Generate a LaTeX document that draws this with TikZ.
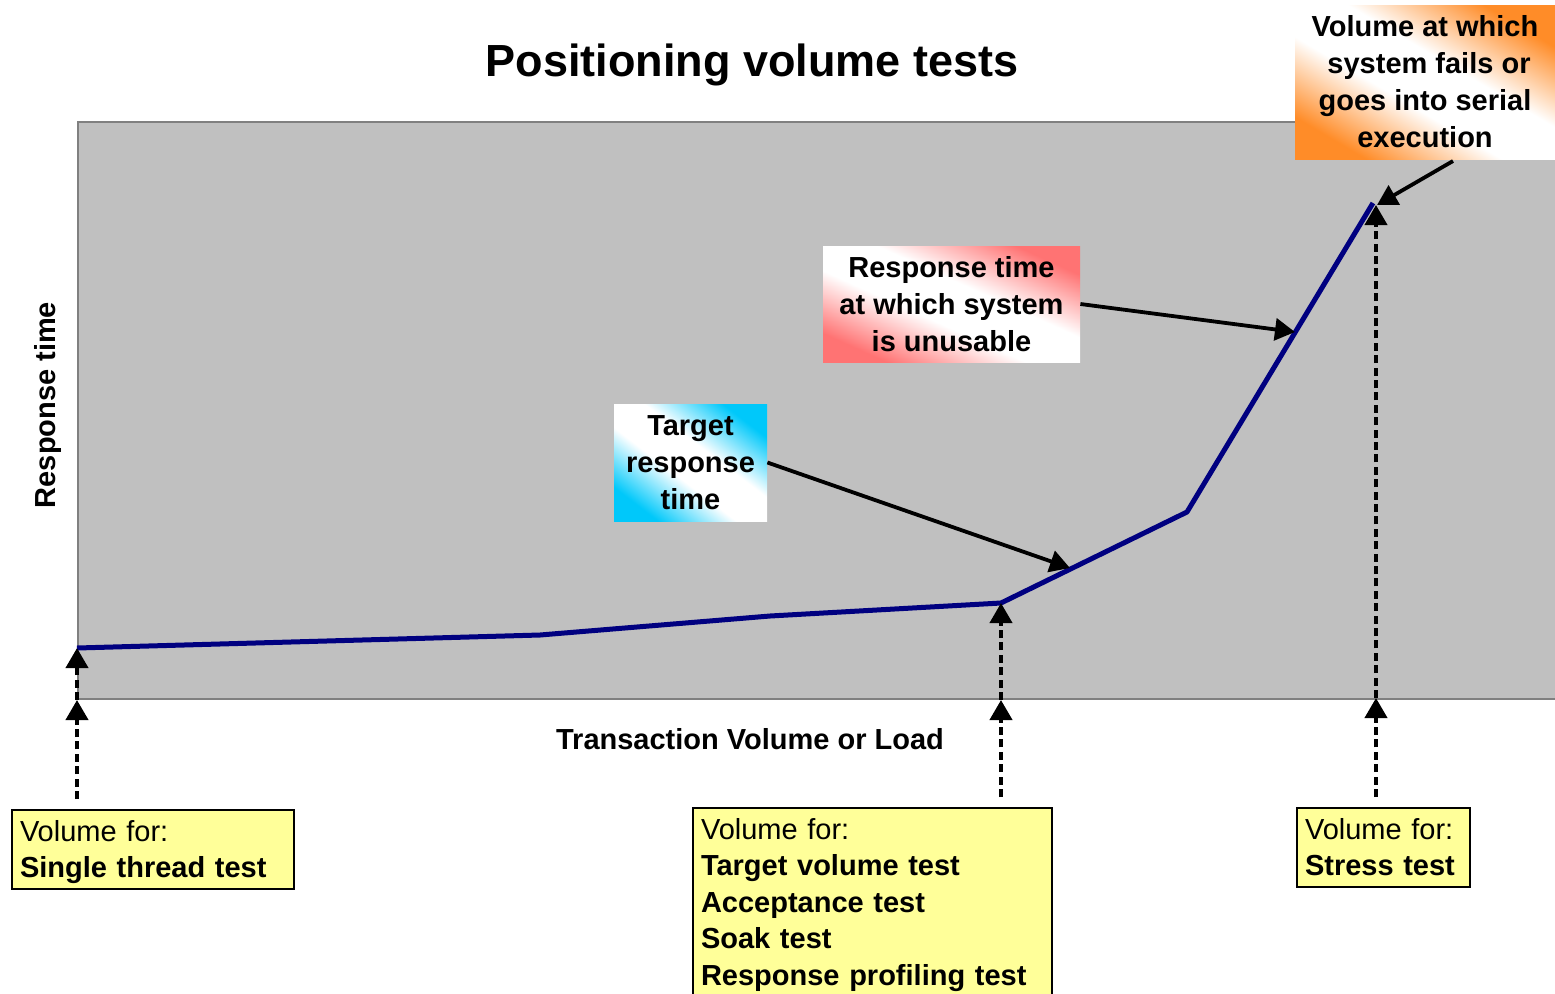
\documentclass[tikz,border=0pt]{standalone}
\usepackage{fontspec}
\setmainfont{Liberation Sans}
\usetikzlibrary{arrows.meta}
\definecolor{plotgray}{RGB}{192,192,192}
\definecolor{edgegray}{RGB}{128,128,128}
\definecolor{curvenavy}{RGB}{0,0,128}
\definecolor{orangeA}{RGB}{255,140,40}
\definecolor{redA}{RGB}{255,115,115}
\definecolor{cyanA}{RGB}{0,200,250}
\definecolor{yellowA}{RGB}{255,255,153}
\pgfdeclareverticalshading{cyandiag}{100bp}{color(0bp)=(cyanA); color(25bp)=(cyanA); color(43bp)=(white); color(57bp)=(white); color(75bp)=(cyanA); color(100bp)=(cyanA)}
\pgfdeclareverticalshading{reddiag}{100bp}{color(0bp)=(redA); color(25bp)=(redA); color(43bp)=(white); color(57bp)=(white); color(75bp)=(redA); color(100bp)=(redA)}
\pgfdeclareverticalshading{orangediag}{100bp}{color(0bp)=(orangeA); color(25bp)=(orangeA); color(43bp)=(white); color(57bp)=(white); color(75bp)=(orangeA); color(100bp)=(orangeA)}
\tikzset{
  lbl/.style={font=\fontsize{14.5}{18.5}\selectfont\bfseries},
  gradbox/.style={lbl, align=center, inner sep=0pt},
  notebox/.style={draw=black, line width=1pt, fill=yellowA, anchor=north west, align=left,
    inner xsep=4pt, inner ysep=5pt, font=\fontsize{14.5}{18.25}\selectfont},
  dasharrow/.style={line width=2pt, dash pattern=on 4pt off 2.2pt, -{Triangle[length=10pt,width=11pt]}},
  solidarrow/.style={line width=1.9pt, -{Triangle[length=10pt,width=11pt]}},
}
\begin{document}
\begin{tikzpicture}[x=0.5pt,y=-0.5pt]
\useasboundingbox (0,0) rectangle (1555,993);
% plot area
\node[draw=edgegray, line width=1pt, fill=plotgray, anchor=north west, inner sep=0pt,
  minimum width=744pt, minimum height=288.5pt] (plot) at (77,121) {};
% title and axis labels
\node[font=\fontsize{22.5}{27}\selectfont\bfseries] (title) at (752,65) {Positioning volume tests};
\node[lbl, rotate=90] (ylab) at (48,405) {Response time};
\node[lbl] (xlab) at (750,739) {Transaction Volume or Load};
% curve
\coordinate (c1) at (77,648);
\coordinate (c2) at (540,635);
\coordinate (c3) at (770,616);
\coordinate (c4) at (1001,603);
\coordinate (c5) at (1187,512);
\coordinate (c6) at (1373,203);
\draw[curvenavy, line width=2.5pt, line join=round] (c1) -- (c2) -- (c3) -- (c4) -- (c5) -- (c6);
% points on curve for annotations
\coordinate (t1) at (1070,568);
\coordinate (t2) at (1295,332);
\coordinate (t3) at (1377,205);
% gradient annotation boxes
\node[gradbox, shading=cyandiag, shading angle=-37.4, minimum width=76.5pt, minimum height=58.5pt] (cyanbox) at (690.5,462.5)
  {Target\\response\\time};
\node[gradbox, shading=reddiag, shading angle=-24.3, minimum width=128.5pt, minimum height=58pt] (redbox) at (951.5,304)
  {Response time\\at which system\\is unusable};
\node[gradbox, shading=orangediag, shading angle=-30.6, minimum width=130pt, minimum height=77pt] (orangebox) at (1425,82)
  {Volume at which\\\ system fails or\\goes into serial\\execution};
\coordinate (o1) at (1453,161);
\draw[solidarrow] (cyanbox.east) -- (t1);
\draw[solidarrow] (redbox.east) -- (t2);
\draw[solidarrow] (o1) -- (t3);
% yellow boxes
\node[notebox, text width=133pt, text depth=19pt] (box1) at (11,809)
  {Volume for:\\\textbf{Single thread test}};
\node[notebox, text width=171.5pt, text depth=80pt] (box2) at (692,807)
  {Volume for:\\\textbf{Target volume test}\\\textbf{Acceptance test}\\\textbf{Soak test}\\\textbf{Response profiling test}};
\node[notebox, text width=78.5pt, text depth=19pt] (box3) at (1296,807)
  {Volume for:\\\textbf{Stress test}};
% dashed arrows
\coordinate (b1) at (c1 |- plot.south);
\coordinate (b2) at (c4 |- plot.south);
\coordinate (b3) at (1376,698);
\coordinate (s3) at (1376,205);
\draw[dasharrow, shorten <=5pt] (c1 |- box1.north) -- (b1);
\draw[dasharrow] (b1) -- (c1);
\draw[dasharrow, shorten <=5pt] (c4 |- box2.north) -- (b2);
\draw[dasharrow] (b2) -- (c4);
\draw[dasharrow, shorten <=5pt] (b3 |- box3.north) -- (b3);
\draw[dasharrow] (b3) -- (s3);
\end{tikzpicture}
\end{document}
